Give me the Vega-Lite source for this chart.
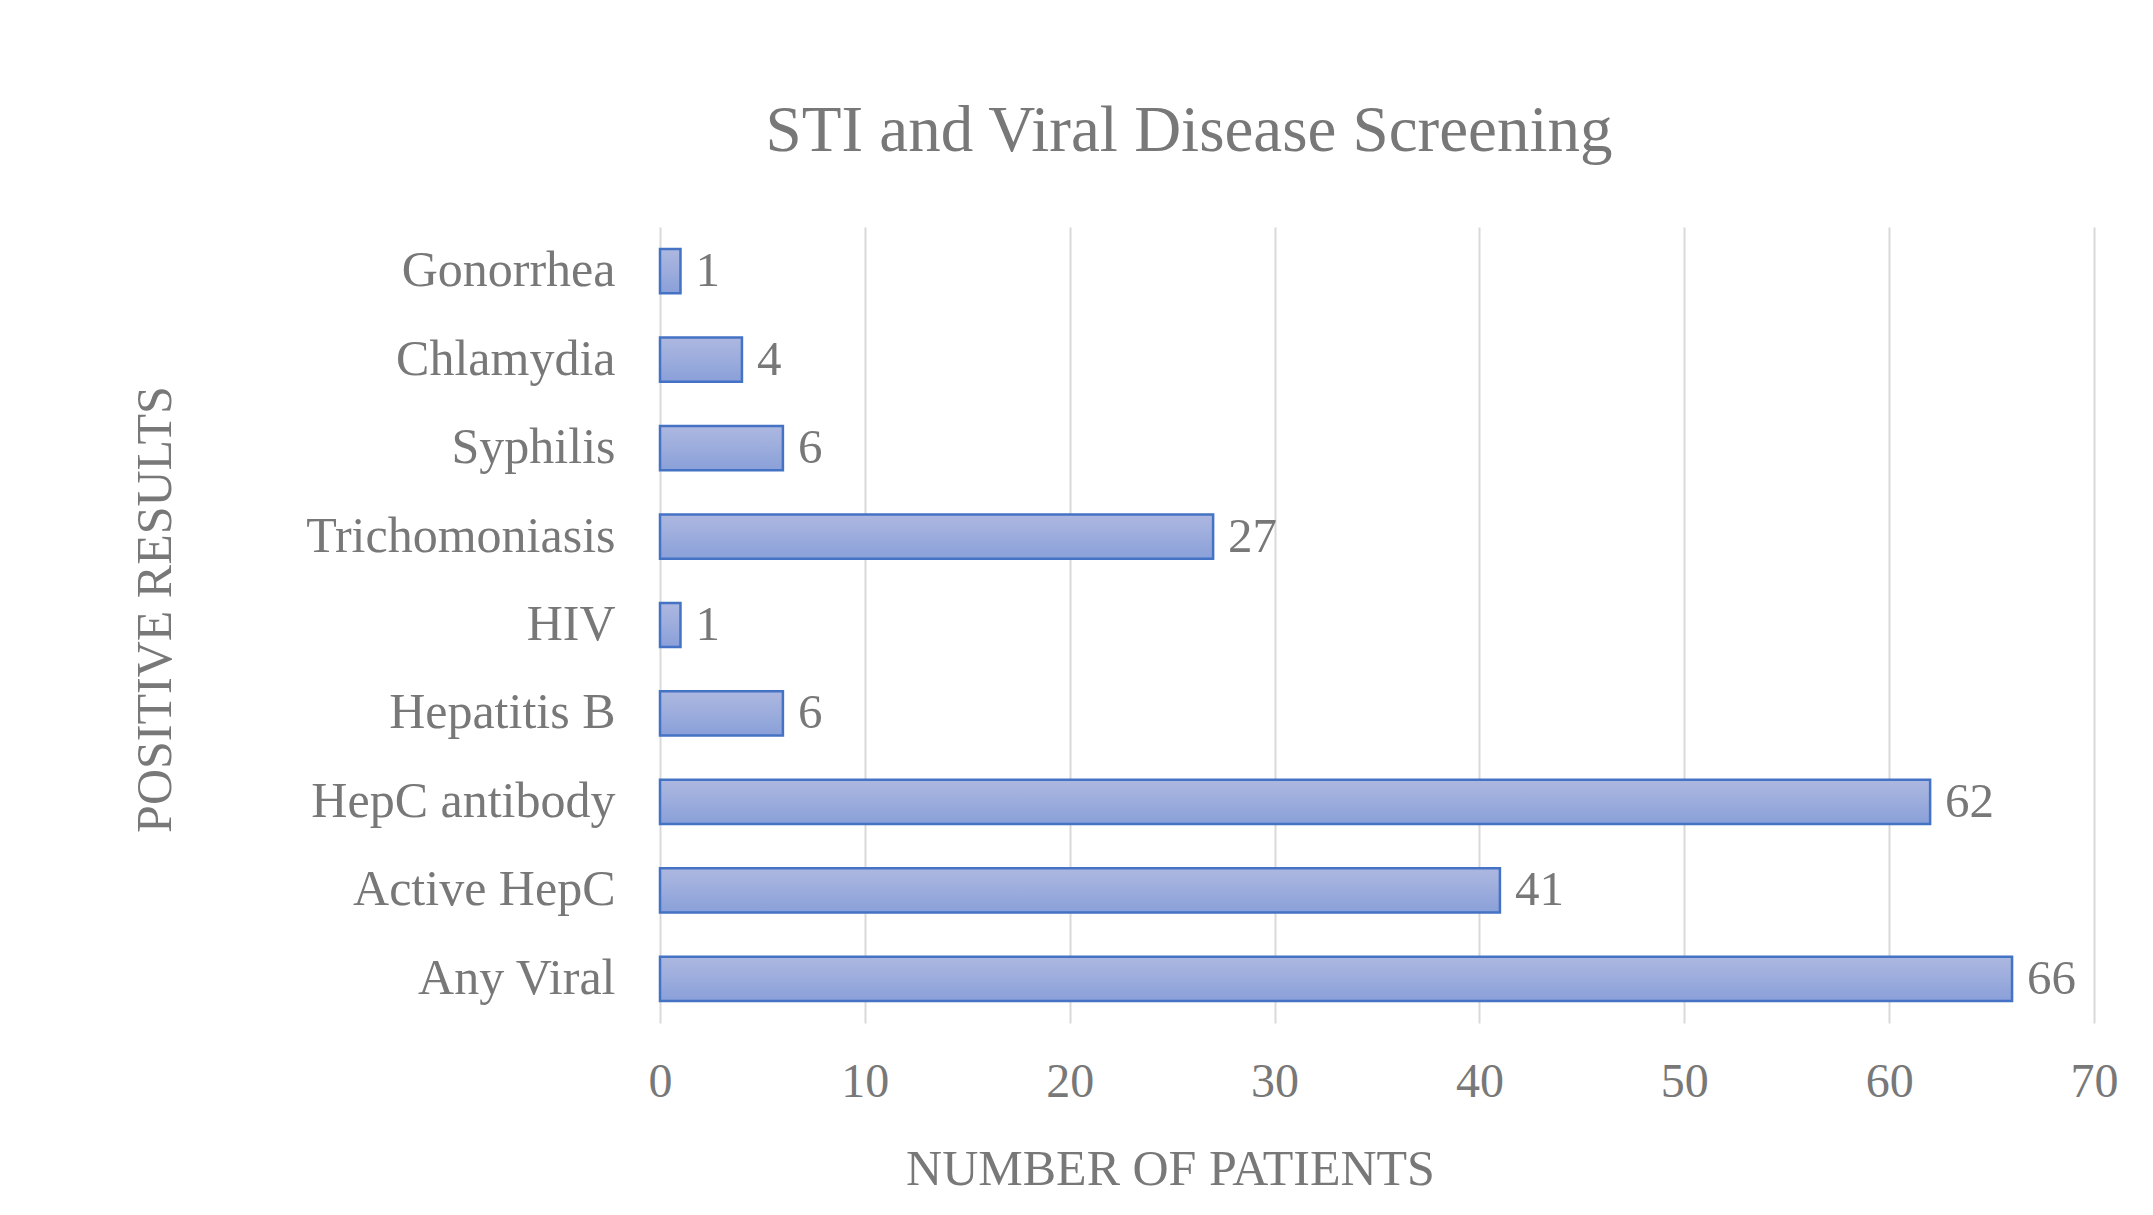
{
  "$schema": "https://vega.github.io/schema/vega-lite/v6.json",
  "autosize": {"type": "none"},
  "width": 1434,
  "height": 796,
  "padding": {"left": 660, "top": 227, "right": 59, "bottom": 192},
  "background": "white",
  "data": {
    "values": [
      {"category": "Gonorrhea", "count": 1},
      {"category": "Chlamydia", "count": 4},
      {"category": "Syphilis", "count": 6},
      {"category": "Trichomoniasis", "count": 27},
      {"category": "HIV", "count": 1},
      {"category": "Hepatitis B", "count": 6},
      {"category": "HepC antibody", "count": 62},
      {"category": "Active HepC", "count": 41},
      {"category": "Any Viral", "count": 66}
    ]
  },
  "title": {
    "text": "STI and Viral Disease Screening",
    "font": "Liberation Serif",
    "fontSize": 65,
    "fontWeight": "normal",
    "color": "#787878",
    "anchor": "middle",
    "frame": "group",
    "dx": -188,
    "baseline": "alphabetic",
    "offset": 11
  },
  "encoding": {
    "y": {
      "field": "category",
      "type": "nominal",
      "sort": null,
      "scale": {"paddingInner": 0.5, "paddingOuter": 0.25},
      "axis": {
        "title": "POSITIVE RESULTS",
        "titleFont": "Liberation Serif",
        "titleFontSize": 50,
        "titleFontWeight": "normal",
        "titleColor": "#787878",
        "titleAngle": -90,
        "titleX": -490,
        "titleY": 382,
        "titleAlign": "center",
        "titleBaseline": "alphabetic",
        "labelFont": "Liberation Serif",
        "labelFontSize": 50,
        "labelColor": "#787878",
        "labelPadding": 45,
        "labelLimit": 0,
        "ticks": false,
        "tickSize": 0,
        "domain": false,
        "grid": false
      }
    },
    "x": {
      "field": "count",
      "type": "quantitative",
      "scale": {"domain": [0, 70], "nice": false},
      "axis": {
        "title": "NUMBER OF PATIENTS",
        "titleFont": "Liberation Serif",
        "titleFontSize": 50,
        "titleFontWeight": "normal",
        "titleColor": "#787878",
        "titleX": 510,
        "titleY": 161,
        "titleAlign": "center",
        "titleBaseline": "alphabetic",
        "values": [0, 10, 20, 30, 40, 50, 60, 70],
        "labelFont": "Liberation Serif",
        "labelFontSize": 48,
        "labelColor": "#787878",
        "labelBaseline": "alphabetic",
        "labelPadding": 73,
        "labelFlush": false,
        "ticks": false,
        "tickSize": 0,
        "domain": false,
        "grid": true,
        "gridColor": "#d9d9d9",
        "gridWidth": 2
      }
    }
  },
  "layer": [
    {
      "mark": {
        "type": "bar",
        "stroke": "#4472c4",
        "strokeWidth": 2.5,
        "color": {
          "gradient": "linear",
          "x1": 0, "y1": 0, "x2": 0, "y2": 1,
          "stops": [
            {"offset": 0, "color": "#adb8e0"},
            {"offset": 1, "color": "#8aa0d9"}
          ]
        }
      }
    },
    {
      "mark": {
        "type": "text",
        "align": "left",
        "baseline": "middle",
        "dx": 15,
        "font": "Liberation Serif",
        "fontSize": 49,
        "color": "#787878"
      },
      "encoding": {"text": {"field": "count", "type": "quantitative"}}
    }
  ],
  "config": {"view": {"stroke": null}}
}
